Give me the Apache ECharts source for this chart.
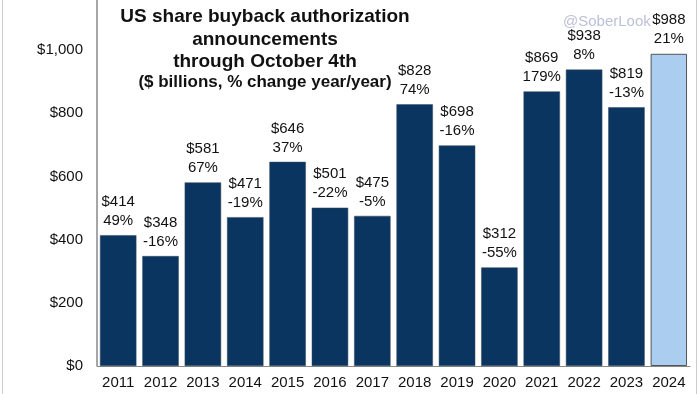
<!DOCTYPE html>
<html><head><meta charset="utf-8">
<script src="https://cdn.jsdelivr.net/npm/echarts@6/dist/echarts.min.js"></script>
<style>html,body{margin:0;padding:0;background:#fff}#c{width:700px;height:394px}</style>
</head><body><div id="c"></div>
<script>
const years = ['2011','2012','2013','2014','2015','2016','2017','2018','2019','2020','2021','2022','2023','2024'];
const values = [414,348,581,471,646,501,475,828,698,312,869,938,819,988];
const changes = ['49%','-16%','67%','-19%','37%','-22%','-5%','74%','-16%','-55%','179%','8%','-13%','21%'];
const yTicks = [0,200,400,600,800,1000];

const chart = echarts.init(document.getElementById('c'));
const font = 'Liberation Sans, Arial, sans-serif';
chart.setOption({
  animation:false,
  grid:{left:97,right:10,top:50,bottom:28,containLabel:false},
  title:[{
    text:'US share buyback authorization\nannouncements\nthrough October 4th',
    left:260, top:1, textAlign:'center',
    textStyle:{fontFamily:font,fontWeight:'bold',fontSize:19,lineHeight:22.5,color:'#111'}
  },{
    text:'($ billions, % change year/year)',
    left:260, top:69, textAlign:'center',
    textStyle:{fontFamily:font,fontWeight:'bold',fontSize:17,color:'#111'}
  }],
  xAxis:{type:'category',data:years,
    axisLine:{show:true,lineStyle:{color:'#888',width:1}},
    axisTick:{show:false},
    axisLabel:{interval:0,fontFamily:font,fontSize:15,color:'#111',margin:9}},
  yAxis:{type:'value',min:0,max:1000,interval:200,
    splitLine:{show:false},axisLine:{show:false},axisTick:{show:false},
    axisLabel:{fontFamily:font,fontSize:15,color:'#111',margin:14,
      formatter:v=>'$'+v.toLocaleString('en-US')}},
  series:[{type:'bar',
    data:values.map((v,i)=>({value:v,itemStyle:i===values.length-1?{color:'#aacdf0',borderColor:'#555',borderWidth:1}:{color:'#0a3561',borderColor:'#3a4a5a',borderWidth:0.5}})),
    barCategoryGap:'14%',
    label:{show:true,position:'top',distance:5,fontFamily:font,fontSize:15,color:'#111',lineHeight:19,
      formatter:p=>'$'+values[p.dataIndex]+'\n'+changes[p.dataIndex]}
  }],
  graphic:[
    {type:'line',shape:{x1:97,y1:0,x2:97,y2:366},style:{stroke:'#888',lineWidth:1.5}},
    {type:'line',shape:{x1:2.5,y1:0,x2:2.5,y2:394},style:{stroke:'#ccc',lineWidth:1}},
    {type:'line',shape:{x1:696.5,y1:0,x2:696.5,y2:394},style:{stroke:'#ccc',lineWidth:1}},
    {type:'text',left:563,top:14,style:{text:'@SoberLook',fontFamily:font,fontSize:15,fill:'#bcc1d8'}}
  ]
});
</script></body></html>
